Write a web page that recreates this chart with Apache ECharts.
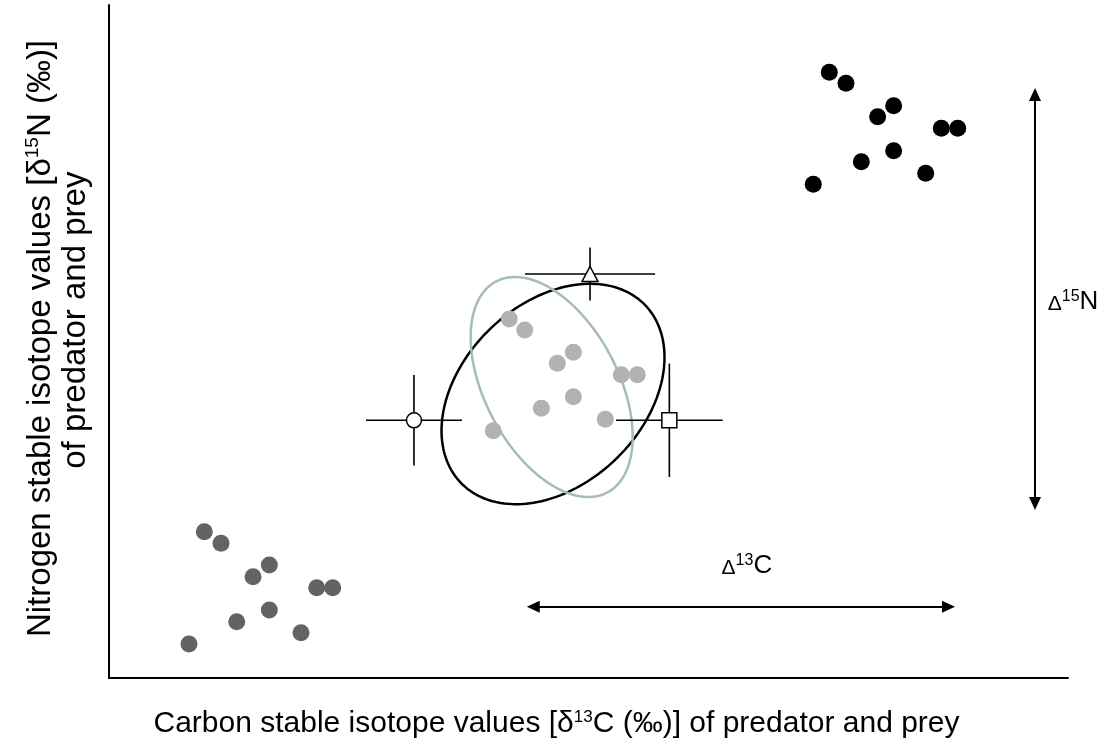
<!DOCTYPE html>
<html>
<head>
<meta charset="utf-8">
<script src="https://cdn.jsdelivr.net/npm/echarts@6/dist/echarts.min.js"></script>
<style>
html,body{margin:0;padding:0;background:#fff;}
#chart{width:1108px;height:746px;}
</style>
</head>
<body>
<div id="chart"></div>
<script>
// Arbitrary isotope scale (no ticks on the original axes): x = d13C, y = d15N
var preyLowX = [9.94, 11.68, 16.72, 15.02, 21.66, 23.33, 16.72, 13.32, 20.02, 8.34];
var preyLowY = [21.74, 20.01, 16.79, 15.05, 13.42, 13.42, 10.10, 8.37, 6.73, 5.05];
var preyHighX = [75.11, 76.85, 81.82, 80.15, 86.79, 88.50, 81.82, 78.45, 85.16, 73.44];
var preyHighY = [90.00, 88.37, 85.04, 83.40, 81.68, 81.68, 78.35, 76.72, 74.99, 73.36];
var predX = [41.74, 43.35, 48.42, 46.75, 53.42, 55.09, 48.42, 45.08, 51.75, 40.07];
var predY = [53.34, 51.71, 48.40, 46.76, 45.07, 45.07, 41.80, 40.07, 38.44, 36.75];

// mean sources with error bars: [x, y, xErr, yErr]
var sourceNames = ['circle', 'rect', 'triangle'];
var sourceMeans = [[31.80, 38.29, 5.00, 6.73], [58.43, 38.29, 5.56, 8.42], [50.16, 60.03, 6.78, 3.94]];

// standard ellipses: [cx, cy, varX, covXY, varY]
var ellipseBlack = [46.30, 42.20, 135.15, 63.45, 268.2];
var ellipseGrey = [46.16, 43.24, 71.34, -62.55, 267.2];

// trophic arrows (symbol centres)
var arrowC = [[44.24, 10.59], [87.54, 10.59]];
var arrowN = [[96.56, 86.70], [96.56, 25.93]];

function zip(a, b) { return a.map(function (v, i) { return [v, b[i]]; }); }

var chart = echarts.init(document.getElementById('chart'));
var FONT = 'Liberation Sans, Arial, sans-serif';

function ellipseRender(color) {
  return function (params, api) {
    var cx = api.value(0), cy = api.value(1), sxx = api.value(2), sxy = api.value(3), syy = api.value(4);
    var l11 = Math.sqrt(sxx), l21 = sxy / l11, l22 = Math.sqrt(syy - l21 * l21);
    var pts = [];
    for (var k = 0; k < 180; k++) {
      var t = k / 180 * Math.PI * 2;
      pts.push(api.coord([cx + l11 * Math.cos(t), cy + l21 * Math.cos(t) + l22 * Math.sin(t)]));
    }
    return { type: 'polygon', shape: { points: pts }, style: { fill: 'none', stroke: color, lineWidth: 2.5 } };
  };
}

var midC = [(arrowC[0][0] + arrowC[1][0]) / 2, arrowC[0][1]];
var midN = [arrowN[0][0], (arrowN[0][1] + arrowN[1][1]) / 2];

var option = {
  animation: false,
  backgroundColor: '#fff',
  grid: { left: 109, right: 40, top: 5, bottom: 68 },
  xAxis: {
    type: 'value', min: 0, max: 100,
    axisLine: { show: true, lineStyle: { color: '#000', width: 2 } },
    axisTick: { show: false }, axisLabel: { show: false }, splitLine: { show: false },
    name: 'Carbon stable isotope values [δ{sup|13}C (‰)] of predator and prey',
    nameLocation: 'middle', nameGap: 31,
    nameTextStyle: { fontSize: 30, fontFamily: FONT, color: '#000', padding: [0, 64, 0, 0],
      rich: { sup: { fontSize: 17, fontFamily: FONT, color: '#000', verticalAlign: 'top' } } }
  },
  yAxis: {
    type: 'value', min: 0, max: 100,
    axisLine: { show: true, lineStyle: { color: '#000', width: 2 } },
    axisTick: { show: false }, axisLabel: { show: false }, splitLine: { show: false },
    name: 'Nitrogen stable isotope values [δ{sup|15}N (‰)]\n\u00a0\u00a0\u00a0\u00a0of predator and prey',
    nameLocation: 'middle', nameGap: 16, nameRotate: 90,
    nameTextStyle: { fontSize: 33, fontFamily: FONT, color: '#000', lineHeight: 35, padding: [0, 0, 0, 6],
      rich: { sup: { fontSize: 19, fontFamily: FONT, color: '#000', verticalAlign: 'top' } } }
  },
  series: [
    { type: 'custom', renderItem: ellipseRender('#000'), data: [ellipseBlack], silent: true, z: 2 },
    { type: 'custom', renderItem: ellipseRender('#a6bcb8'), data: [ellipseGrey], silent: true, z: 3 },
    { type: 'scatter', data: zip(preyLowX, preyLowY), symbolSize: 17, itemStyle: { color: '#636363', opacity: 1 }, z: 4 },
    { type: 'scatter', data: zip(preyHighX, preyHighY), symbolSize: 17, itemStyle: { color: '#000', opacity: 1 }, z: 4 },
    { type: 'scatter', data: zip(predX, predY), symbolSize: 17, itemStyle: { color: '#b2b2b2', opacity: 1 }, z: 4 },
    {
      type: 'custom', data: sourceMeans, z: 5, silent: true,
      renderItem: function (params, api) {
        var x = api.value(0), y = api.value(1), ex = api.value(2), ey = api.value(3);
        var l = api.coord([x - ex, y]), r = api.coord([x + ex, y]);
        var b = api.coord([x, y - ey]), t = api.coord([x, y + ey]);
        var st = { stroke: '#000', lineWidth: 1.6 };
        return { type: 'group', children: [
          { type: 'line', shape: { x1: l[0], y1: l[1], x2: r[0], y2: r[1] }, style: st },
          { type: 'line', shape: { x1: b[0], y1: b[1], x2: t[0], y2: t[1] }, style: st }
        ] };
      }
    },
    {
      type: 'scatter', z: 6,
      data: sourceMeans.map(function (m, i) {
        return { value: [m[0], m[1]], symbol: sourceNames[i], symbolSize: sourceNames[i] === 'triangle' ? [16, 15] : 15 };
      }),
      itemStyle: { color: '#fff', borderColor: '#000', borderWidth: 1.5, opacity: 1 }
    },
    {
      type: 'scatter', z: 7, symbolSize: 0, data: [],
      markLine: {
        silent: true, symbol: ['triangle', 'triangle'], symbolSize: [12, 13],
        lineStyle: { color: '#000', width: 2, type: 'solid', opacity: 1 },
        label: { show: false },
        data: [
          [{ coord: arrowC[0] }, { coord: arrowC[1] }],
          [{ coord: arrowN[0] }, { coord: arrowN[1] }]
        ]
      }
    },
    {
      type: 'scatter', z: 8, symbolSize: 0, silent: true,
      itemStyle: { color: '#000', opacity: 1 },
      data: [
        { value: midC, label: { show: true, position: 'top', distance: 0, offset: [6, -28], formatter: '{d|Δ}{s|13}{t|C}' } },
        { value: midN, label: { show: true, position: 'top', distance: 0, offset: [38, 16], formatter: '{d|Δ}{s|15}{t|N}' } }
      ],
      label: {
        color: '#000', fontFamily: FONT, textBorderWidth: 0,
        rich: {
          d: { fontSize: 21, fontFamily: FONT, color: '#000', verticalAlign: 'bottom', textBorderWidth: 0 },
          s: { fontSize: 16, fontFamily: FONT, color: '#000', verticalAlign: 'top', textBorderWidth: 0 },
          t: { fontSize: 26, fontFamily: FONT, color: '#000', verticalAlign: 'bottom', textBorderWidth: 0 }
        }
      }
    }
  ]
};
chart.setOption(option);
</script>
</body>
</html>
